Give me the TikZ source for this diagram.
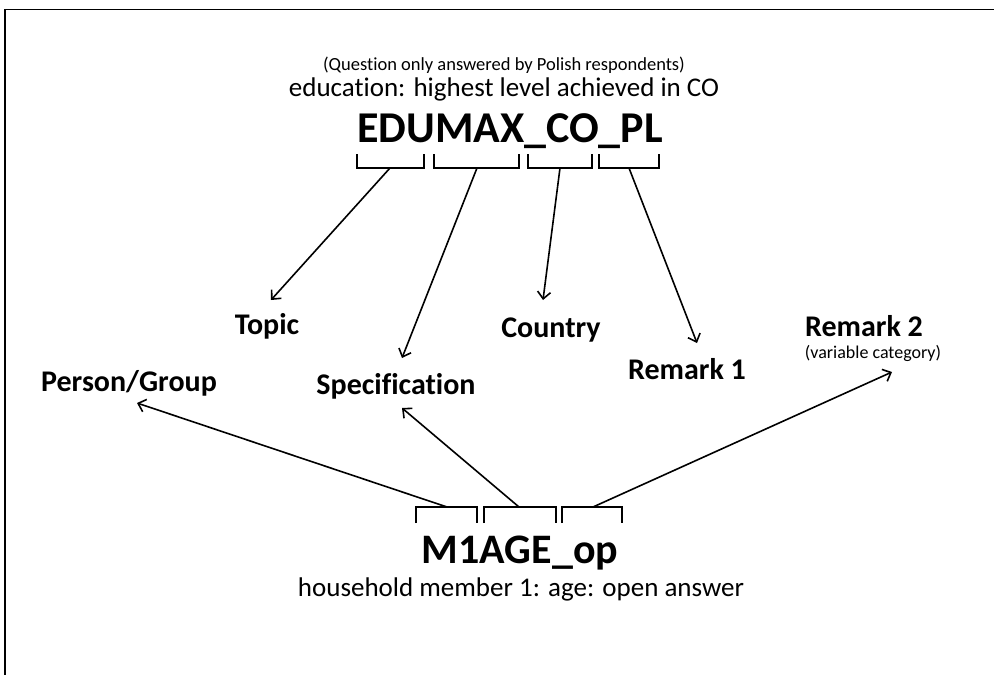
\documentclass[tikz,border=0pt]{standalone}
\usepackage{fontspec}
\setmainfont[Ligatures=NoCommon]{Carlito}
\usetikzlibrary{arrows.meta}
\begin{document}
\begin{tikzpicture}[x=1pt,y=-1pt,
  lbl/.style={anchor=base,inner sep=0pt,font=\fontsize{30}{34}\selectfont\bfseries},
  big/.style={anchor=base,inner sep=0pt,font=\fontsize{44}{52}\selectfont\bfseries},
  bigb/.style={anchor=base,inner sep=0pt,font=\fontsize{42}{50}\selectfont\bfseries},
  desc/.style={anchor=base,inner sep=0pt,font=\fontsize{27}{32}\selectfont},
  small/.style={anchor=base,inner sep=0pt,font=\fontsize{18.5}{22}\selectfont},
  tiny/.style={anchor=base,inner sep=0pt,font=\fontsize{18}{21}\selectfont},
  brk/.style={line width=1.6pt},
  arr/.style={line width=1.6pt,-{Straight Barb[length=7pt,width=13pt,line width=1.6pt]}},
  frame/.style={line width=1.5pt}]
\useasboundingbox (0,0) rectangle (994,675);
\draw[frame] (5,675) -- (5,9.5) -- (994,9.5);

% top variable
\node[small] (q) at (504,70) {(Question only answered by Polish respondents)};
\node[desc] (ed) at (504,96) {education: highest level achieved in CO};
\node[big] (edumax) at (510,142) {EDUMAX\_CO\_PL};

% top brackets
\draw[brk] (357,154) -- (357,168) -- (424,168) -- (424,154);
\draw[brk] (434,154) -- (434,168) -- (519,168) -- (519,154);
\draw[brk] (528,154) -- (528,168) -- (592,168) -- (592,154);
\draw[brk] (599,154) -- (599,168) -- (659,168) -- (659,154);
\coordinate (b1) at (390,168);
\coordinate (b2) at (477,168);
\coordinate (b3) at (560,168);
\coordinate (b4) at (629,168);

% labels
\node[lbl] (topic) at (267,334) {Topic};
\node[lbl] (spec) at (396,394) {Specification};
\node[lbl] (country) at (551,337) {Country};
\node[lbl] (rem1) at (687,379) {Remark 1};
\node[lbl] (rem2) at (864,336) {Remark 2};
\node[tiny] (varcat) at (873,358) {(variable category)};
\node[lbl] (person) at (129,391) {Person/Group};

\coordinate (t1) at (271,300);
\coordinate (t2) at (402,358);
\coordinate (t3) at (543,300);
\coordinate (t4) at (697,343);

\draw[arr] (b1) -- (t1);
\draw[arr] (b2) -- (t2);
\draw[arr] (b3) -- (t3);
\draw[arr] (b4) -- (t4);

% bottom variable
\node[bigb] (m1age) at (520,563) {M1AGE\_op};
\node[desc] (hh) at (521,596) {household member 1: age: open answer};

\draw[brk] (416,523) -- (416,507) -- (477,507) -- (477,523);
\draw[brk] (484,523) -- (484,507) -- (556,507) -- (556,523);
\draw[brk] (562,523) -- (562,507) -- (622,507) -- (622,523);
\coordinate (c1) at (447,507);
\coordinate (c2) at (519,507);
\coordinate (c3) at (593,507);

\coordinate (u1) at (137,403);
\coordinate (u2) at (402,408);
\coordinate (u3) at (892,372);

\draw[arr] (c1) -- (u1);
\draw[arr] (c2) -- (u2);
\draw[arr] (c3) -- (u3);
\end{tikzpicture}
\end{document}
